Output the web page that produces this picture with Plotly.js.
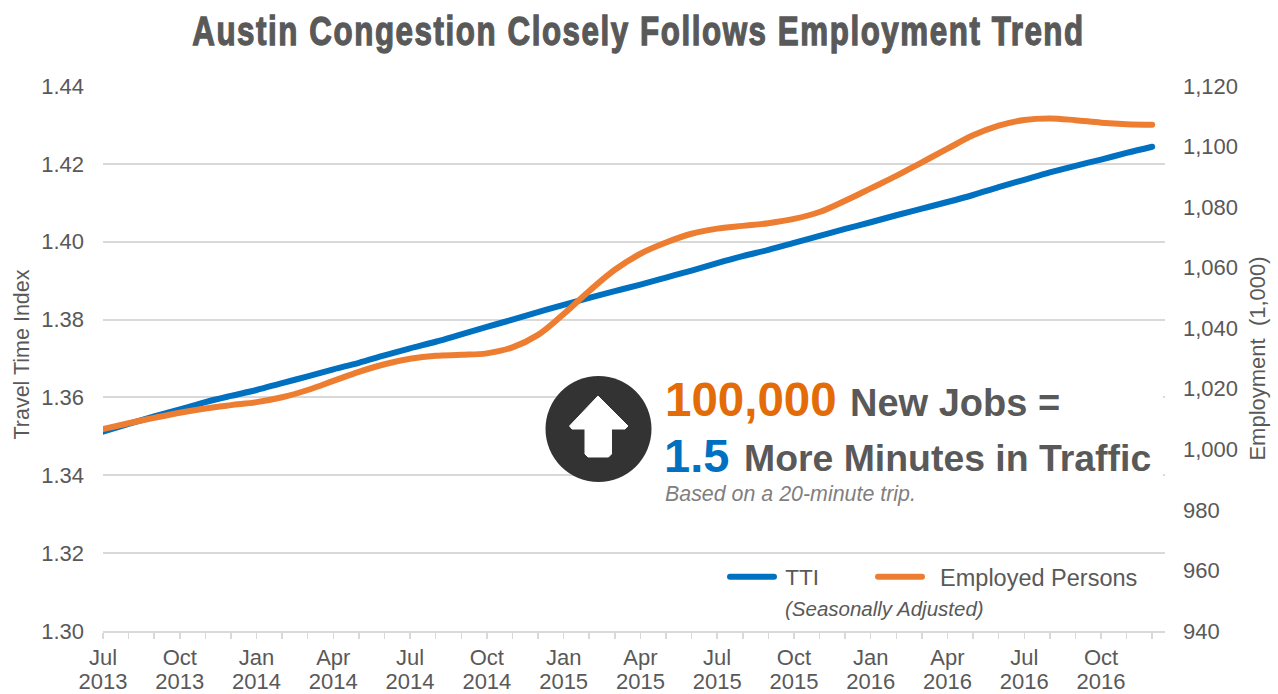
<!DOCTYPE html>
<html>
<head>
<meta charset="utf-8">
<script src="https://cdn.plot.ly/plotly-3.0.1.min.js"></script>
<style>
html,body{margin:0;padding:0;background:#fff;overflow:hidden}
#chart{width:1278px;height:694px}
.js-line,.legendlines path{stroke-linecap:round}
.gtitle{stroke:#595959;stroke-width:1.3px;letter-spacing:2px}
</style>
</head>
<body>
<div id="chart"></div>
<script>
const tickLabels = [
  'Jul<br>2013','','','Oct<br>2013','','','Jan<br>2014','','','Apr<br>2014','','',
  'Jul<br>2014','','','Oct<br>2014','','','Jan<br>2015','','','Apr<br>2015','','',
  'Jul<br>2015','','','Oct<br>2015','','','Jan<br>2016','','','Apr<br>2016','','',
  'Jul<br>2016','','','Oct<br>2016','',''
];
const tti = [
  1.3512,1.3532,1.3551,1.3569,1.3588,1.3604,1.3619,1.3637,1.3654,1.3672,1.3689,1.3708,
  1.3726,1.3743,1.3762,1.3781,1.3800,1.3819,1.3838,1.3856,1.3873,1.3890,1.3908,1.3926,
  1.3945,1.3963,1.3979,1.3997,1.4015,1.4033,1.4050,1.4068,1.4085,1.4102,1.4120,1.4140,
  1.4159,1.4178,1.4195,1.4211,1.4228,1.4244
];
const employed = [
  1006.7,1008.6,1010.4,1012.1,1013.5,1014.6,1015.6,1017.2,1019.6,1022.6,1025.6,1028.1,
  1029.9,1030.9,1031.2,1031.7,1033.7,1037.8,1044.7,1052.3,1059.3,1064.6,1068.3,1071.2,
  1072.9,1073.8,1074.7,1076.1,1078.4,1082.1,1086.2,1090.3,1094.8,1099.3,1103.7,1106.9,
  1108.8,1109.3,1108.7,1107.9,1107.4,1107.2
];
const monthIndex = tickLabels.map((_, i) => i);
const leftTicks = [1.30,1.32,1.34,1.36,1.38,1.40,1.42,1.44];
const rightTicks = [940,960,980,1000,1020,1040,1060,1080,1100,1120];

const W = 1278, H = 694, L = 103, R = 1165, T = 86, B = 631;
const px = x => (x - L) / (R - L);
const py = y => (B - y) / (B - T);
const grey = '#595959', grid = '#d9d9d9', sans = 'Liberation Sans, Arial, sans-serif';
const tickFont = {family: sans, size: 22, color: grey};

const traces = [
  {x: monthIndex, y: tti, name: '\u00a0TTI', type: 'scatter', mode: 'lines', yaxis: 'y', legend: 'legend',
   line: {color: '#0070c0', width: 6, shape: 'spline', smoothing: 1}},
  {x: monthIndex, y: employed, name: '\u00a0\u00a0Employed Persons', type: 'scatter', mode: 'lines', yaxis: 'y2', legend: 'legend2',
   line: {color: '#ed7d31', width: 6, shape: 'spline', smoothing: 1}}
];

const arrow = [[598,396],[569.5,426],[572,429],[585,429],[585,454],[588,457],[608.5,457],[611.5,454],[611.5,429],[625,429],[628,426]];
const arrowPath = 'M' + arrow.map(p => px(p[0]).toFixed(5) + ',' + py(p[1]).toFixed(5)).join('L') + 'Z';

const note = (x, y, text, size, color) => ({
  xref: 'paper', yref: 'paper', x: px(x - 2), y: py(y), text, showarrow: false,
  xanchor: 'left', yanchor: 'middle', align: 'left',
  font: {family: sans, size, color}
});
const legendBase = (x, size) => ({
  orientation: 'h', x: px(x), y: py(577), xanchor: 'left', yanchor: 'middle',
  bgcolor: 'rgba(0,0,0,0)', font: {family: sans, size, color: grey},
  itemwidth: 44, itemclick: false, itemdoubleclick: false
});

const layout = {
  width: W, height: H,
  margin: {l: L, r: W - R, t: T, b: H - B, pad: 0},
  paper_bgcolor: '#fff', plot_bgcolor: '#fff',
  title: {
    text: '<b>Austin Congestion Closely Follows Employment Trend</b>',
    font: {family: 'Liberation Sans, sans-serif', size: 40, color: grey},
    x: 0.4996, xref: 'container', xanchor: 'center',
    y: 1 - 31 / H, yref: 'container', yanchor: 'middle'
  },
  xaxis: {
    range: [0, 41.5], tickmode: 'array', tickvals: monthIndex, ticktext: tickLabels,
    ticks: 'outside', ticklen: 6, tickwidth: 1.5, tickcolor: grid, tickangle: 0,
    showline: true, linecolor: grid, linewidth: 2, showgrid: false, zeroline: false,
    tickfont: tickFont, fixedrange: true
  },
  yaxis: {
    range: [1.30, 1.44], tickmode: 'array', tickvals: leftTicks,
    ticktext: leftTicks.map(v => v.toFixed(2)),
    showgrid: true, gridcolor: grid, gridwidth: 2, zeroline: false, showline: false,
    ticks: '', ticklabelstandoff: 18, tickfont: tickFont, fixedrange: true,
    title: {text: 'Travel Time Index', font: {family: sans, size: 21.5, color: grey}, standoff: 5}
  },
  yaxis2: {
    range: [940, 1120], overlaying: 'y', side: 'right', tickmode: 'array', tickvals: rightTicks,
    ticktext: rightTicks.map(v => v.toLocaleString('en-US')),
    showgrid: false, zeroline: false, showline: false,
    ticks: '', ticklabelstandoff: 17, tickfont: tickFont, fixedrange: true,
    title: {text: 'Employment  (1,000)', font: {family: sans, size: 22, color: grey}, standoff: 12}
  },
  showlegend: true,
  legend: legendBase(725, 22.5),
  legend2: legendBase(873, 23.5),
  shapes: [
    {type: 'rect', xref: 'paper', yref: 'paper', layer: 'above',
     x0: px(600), x1: px(1163), y0: py(372), y1: py(506), fillcolor: '#fff', line: {width: 0}},
    {type: 'circle', xref: 'paper', yref: 'paper', layer: 'above',
     x0: px(545.5), x1: px(651.5), y0: py(482), y1: py(376), fillcolor: '#333333', line: {width: 0}},
    {type: 'path', xref: 'paper', yref: 'paper', layer: 'above', path: arrowPath,
     fillcolor: '#fff', line: {color: '#fff', width: 1}}
  ],
  annotations: [
    note(665, 400, '<b>100,000</b>', 47.5, '#e36c09'),
    note(850, 403, '<b>New Jobs =</b>', 38, grey),
    note(664, 455, '<b>1.5</b>', 47, '#0070c0'),
    note(744, 458, '<b>More Minutes in Traffic</b>', 37.4, grey),
    note(665, 494, '<i>Based on a 20-minute trip.</i>', 21.4, '#7f7f7f'),
    note(785, 608, '<i>(Seasonally Adjusted)</i>', 20.5, grey)
  ]
};
Plotly.newPlot('chart', traces, layout, {displayModeBar: false, staticPlot: true}).then(() => {
  const t = document.querySelector('.gtitle');
  const g = document.querySelector('.g-gtitle');
  if (t && g) {
    const b = t.getBBox();
    const cx = 638.5, s = 893 / b.width, ox = b.x + b.width / 2;
    g.setAttribute('transform', 'translate(' + cx + ',0) scale(' + s + ',1) translate(' + (-ox) + ',0)');
  }
  document.querySelectorAll('.xtick tspan.line').forEach(s => {
    if (parseFloat(s.getAttribute('dy')) > 0) s.setAttribute('dy', '24');
  });
  const yt = document.querySelector('.ytitle');
  if (yt) yt.setAttribute('transform', 'translate(0,-4) ' + (yt.getAttribute('transform') || ''));
});
</script>
</body>
</html>
